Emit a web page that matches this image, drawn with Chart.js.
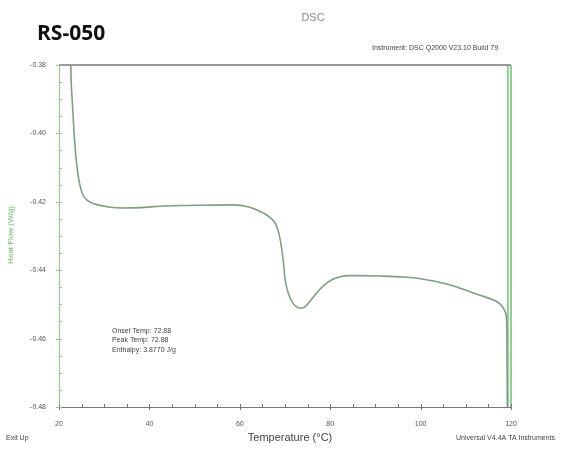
<!DOCTYPE html>
<html>
<head>
<meta charset="utf-8">
<script src="https://cdn.jsdelivr.net/npm/chart.js@4.4.1/dist/chart.umd.min.js"></script>
<style>
html,body{margin:0;padding:0;background:#fff;}
#wrap{position:relative;width:571px;height:457px;}
</style>
</head>
<body>
<div id="wrap"><canvas id="c" width="571" height="457"></canvas></div>
<script>
// ---- data ----
const temperature = [22.5,22.6,23.0,23.5,24.0,24.6,25.3,26.5,28.6,31.0,34.0,38.0,42.3,46.8,52.0,58.5,62.0,63.8,65.5,66.7,67.8,68.5,69.0,69.6,70.0,70.8,71.8,72.8,73.8,74.8,76.3,77.8,79.2,80.7,82.2,84.5,86.6,91.0,96.2,101.0,105.0,108.0,110.9,113.5,116.1,117.5,118.3,118.8,119.0,119.1,119.2];
const heatFlow = [-0.370,-0.380,-0.392,-0.403,-0.410,-0.415,-0.418,-0.4198,-0.4209,-0.4215,-0.4218,-0.4217,-0.4213,-0.4211,-0.4210,-0.4209,-0.4215,-0.4224,-0.4235,-0.4246,-0.4262,-0.4285,-0.4315,-0.4370,-0.4425,-0.4470,-0.4497,-0.4509,-0.4511,-0.4502,-0.4478,-0.4455,-0.4438,-0.4426,-0.4419,-0.4416,-0.4416,-0.4417,-0.4420,-0.4427,-0.4438,-0.4449,-0.4463,-0.4475,-0.4487,-0.4498,-0.4511,-0.4525,-0.4540,-0.4600,-0.4800];
const endTemps = [119.3,119.3,119.3,120.0,120.0];
const endFlows = [-0.48,-0.38,null,-0.38,-0.48];
const xTicks = [20,40,60,80,100,120];
const yTicks = [-0.48,-0.46,-0.44,-0.42,-0.40,-0.38];
const annotationLines = ["Onset Temp: 72.88","Peak Temp: 72.88","Enthalpy: 3.8770 J/g"];

const curve = temperature.map((t,i)=>({x:t,y:heatFlow[i]}));
const endLines = endTemps.map((t,i)=>({x:t,y:endFlows[i]}));

const decor = {
  id:'decor',
  afterDraw(chart){
    const ctx = chart.ctx, xs = chart.scales.x, ys = chart.scales.y;
    const L = chart.chartArea.left, R = chart.chartArea.right, T = chart.chartArea.top, B = chart.chartArea.bottom;
    ctx.save();
    // top frame line
    ctx.strokeStyle = '#9a9a9a'; ctx.lineWidth = 2;
    ctx.beginPath(); ctx.moveTo(L, T); ctx.lineTo(R, T); ctx.stroke();
    // x ticks (minor inward, major crossing)
    ctx.lineWidth = 1; ctx.strokeStyle = '#777';
    for (let v = 20; v <= 120; v += 5) {
      const px = Math.round(xs.getPixelForValue(v)) + 0.5;
      ctx.beginPath();
      if (v % 20 === 0) { ctx.moveTo(px, B - 3); ctx.lineTo(px, B + 3); }
      else { ctx.moveTo(px, B); ctx.lineTo(px, B - 3); }
      ctx.stroke();
    }
    // y ticks
    ctx.strokeStyle = '#8cc98c';
    for (let k = 0; k <= 20; k++) {
      const v = -0.48 + k * 0.005;
      const py = Math.round(ys.getPixelForValue(v)) + 0.5;
      ctx.beginPath();
      if (k % 4 === 0) { ctx.moveTo(L - 3, py); ctx.lineTo(L + 3, py); }
      else { ctx.moveTo(L, py); ctx.lineTo(L + 3, py); }
      ctx.stroke();
    }
    // texts
    ctx.textBaseline = 'alphabetic';
    ctx.fillStyle = '#111';
    ctx.font = 'bold 21px "Open Sans", "Liberation Sans", sans-serif';
    ctx.textAlign = 'left';
    ctx.fillText('RS-050', 37, 40);
    ctx.fillStyle = '#8a8a8a';
    ctx.font = '11px "Liberation Sans", Arial, sans-serif';
    ctx.textAlign = 'center';
    ctx.fillText('DSC', 313, 21);
    ctx.fillStyle = '#444';
    ctx.font = '7px "Liberation Sans", Arial, sans-serif';
    ctx.textAlign = 'left';
    ctx.fillText('Instrument: DSC Q2000 V23.10 Build 79', 372, 50);
    ctx.fillText('Exit Up', 6, 440);
    ctx.fillText('Universal V4.4A TA Instruments', 456, 440);
    annotationLines.forEach((s,i)=>ctx.fillText(s, 112, 333 + i * 9.3));
    ctx.fillStyle = '#444';
    ctx.font = '11px "Liberation Sans", Arial, sans-serif';
    ctx.textAlign = 'center';
    ctx.fillText('Temperature (\u00B0C)', 290, 441);
    ctx.save();
    ctx.translate(13, 235); ctx.rotate(-Math.PI/2);
    ctx.fillStyle = '#6cc26c';
    ctx.font = '8px "Liberation Sans", Arial, sans-serif';
    ctx.fillText('Heat Flow (W/g)', 0, 0);
    ctx.restore();
    ctx.restore();
  }
};

new Chart(document.getElementById('c'), {
  type: 'line',
  data: {
    datasets: [
      {data: curve, borderColor: '#7f9f82', borderWidth: 1.6, pointRadius: 0, tension: 0.35, cubicInterpolationMode: 'monotone', fill: false},
      {data: endLines, borderColor: '#8fd08f', borderWidth: 2, pointRadius: 0, tension: 0, fill: false, spanGaps: false, clip: 4}
    ]
  },
  options: {
    responsive: false,
    animation: false,
    layout: {padding: {left: 0, top: 65, right: 60, bottom: 0}},
    plugins: {legend: {display: false}, tooltip: {enabled: false}},
    scales: {
      x: {
        type: 'linear', min: 20, max: 120,
        afterFit(s){ s.height = 50; },
        afterBuildTicks(s){ s.ticks = xTicks.map(v=>({value:v})); },
        grid: {display: false},
        border: {display: true, color: '#777', width: 1},
        ticks: {font: {size: 7, family: '"Liberation Sans", Arial, sans-serif'}, color: '#555', padding: 5, maxRotation: 0,
          callback: v => String(v)}
      },
      y: {
        type: 'linear', min: -0.48, max: -0.38,
        afterFit(s){ s.width = 59; },
        afterBuildTicks(s){ s.ticks = yTicks.map(v=>({value:v})); },
        grid: {display: false},
        border: {display: true, color: '#8cc98c', width: 1},
        ticks: {font: {size: 7, family: '"Liberation Sans", Arial, sans-serif'}, color: '#555', padding: 5,
          callback: v => Number(v).toFixed(2)}
      }
    }
  },
  plugins: [decor]
});
</script>
</body>
</html>
